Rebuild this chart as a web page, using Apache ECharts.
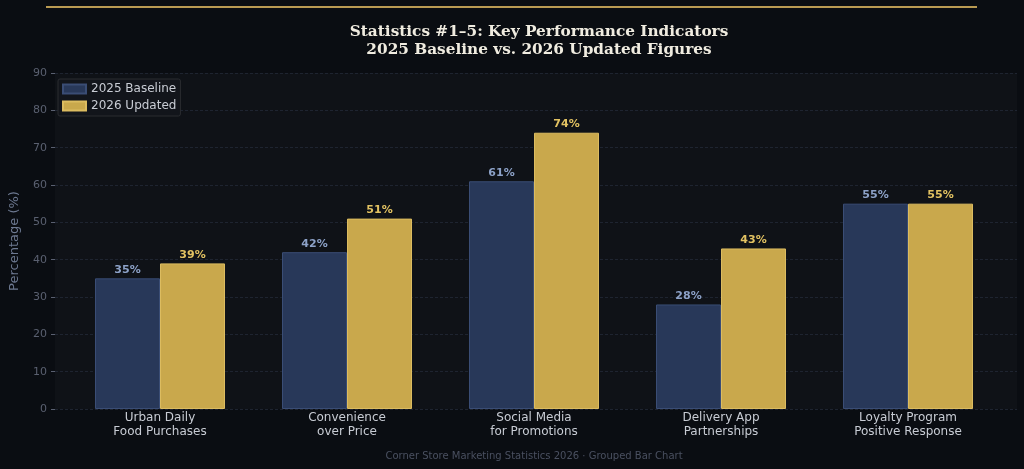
<!DOCTYPE html>
<html>
<head>
<meta charset="utf-8">
<script src="https://cdn.jsdelivr.net/npm/echarts@6/dist/echarts.min.js"></script>
<style>
  html, body { margin: 0; padding: 0; background: #0a0d12; }
  #main { width: 1024px; height: 469px; }
</style>
</head>
<body>
<div id="main"></div>
<script>
var categories = ['Urban Daily\nFood Purchases', 'Convenience\nover Price', 'Social Media\nfor Promotions', 'Delivery App\nPartnerships', 'Loyalty Program\nPositive Response'];
var baseline2025 = [35, 42, 61, 28, 55];
var updated2026 = [39, 51, 74, 43, 55];
var yTicks = [0, 10, 20, 30, 40, 50, 60, 70, 80, 90];

var myChart = echarts.init(document.getElementById('main'));

var option = {
    backgroundColor: '#0a0d12',
    animation: false,
    title: {
        text: 'Statistics #1\u20135: Key Performance Indicators\n2025 Baseline vs. 2026 Updated Figures',
        left: 534,
        top: 18,
        textAlign: 'center',
        textStyle: {
            fontFamily: 'DejaVu Serif',
            fontWeight: 'bold',
            fontSize: 15.3,
            color: '#f0ece0',
            lineHeight: 18
        }
    },
    graphic: [
        // gold rule across the top
        { type: 'rect', shape: { x: 46, y: 6, width: 931, height: 2 }, style: { fill: '#b99a52' } },
        {
            type: 'text', x: 534, y: 451,
            style: { text: 'Corner Store Marketing Statistics 2026 \u00b7 Grouped Bar Chart', align: 'center', fill: '#4a5060', fontSize: 10, fontFamily: 'DejaVu Sans' }
        }
    ],
    legend: {
        data: ['2025 Baseline', '2026 Updated'],
        orient: 'vertical',
        left: 58,
        top: 79,
        padding: [4, 4, 4, 4],
        itemGap: 5,
        itemWidth: 23,
        itemHeight: 9,
        icon: 'rect',
        backgroundColor: '#12151b',
        borderColor: '#2a2c30',
        borderWidth: 1,
        borderRadius: 2,
        textStyle: { color: '#c8ccd4', fontSize: 12, fontFamily: 'DejaVu Sans' }
    },
    grid: [
        // background grid spans the whole plot area
        { left: 52, right: 7, top: 73, bottom: 60, show: true, backgroundColor: '#0f1217', borderWidth: 0 },
        // bars grid matches the category spacing
        { left: 66.5, right: 22.5, top: 73, bottom: 60 }
    ],
    xAxis: [
        { type: 'value', gridIndex: 0, show: false, min: 0, max: 1 },
        {
            type: 'category',
            gridIndex: 1,
            data: categories,
            axisLine: { show: false },
            axisTick: { show: false },
            axisLabel: { color: '#c8ccd4', fontSize: 12, fontFamily: 'DejaVu Sans', lineHeight: 14, margin: 2 }
        }
    ],
    yAxis: [
        {
            type: 'value',
            gridIndex: 0,
            min: 0,
            max: 90,
            interval: 10,
            name: 'Percentage (%)',
            nameLocation: 'middle',
            nameGap: 34,
            nameTextStyle: { color: '#6c7890', fontSize: 13, fontFamily: 'DejaVu Sans' },
            axisLine: { show: false },
            axisTick: { show: true, length: 4, lineStyle: { color: '#5a6070' } },
            axisLabel: { color: '#5a6070', fontSize: 11, fontFamily: 'DejaVu Sans', margin: 8 },
            splitLine: { show: true, lineStyle: { color: '#1e2430', type: [3, 2], width: 1 } }
        },
        { type: 'value', gridIndex: 1, min: 0, max: 90, show: false }
    ],
    series: [
        {
            name: '2025 Baseline',
            type: 'bar',
            xAxisIndex: 1,
            yAxisIndex: 1,
            barWidth: 65,
            barGap: '0%',
            itemStyle: { color: '#283859', borderColor: '#3a4d75', borderWidth: 1 },
            label: {
                show: true, position: 'top', distance: 3,
                formatter: '{c}%',
                color: '#8da2c8', fontSize: 11, fontWeight: 'bold', fontFamily: 'DejaVu Sans'
            },
            data: baseline2025
        },
        {
            name: '2026 Updated',
            type: 'bar',
            xAxisIndex: 1,
            yAxisIndex: 1,
            barWidth: 65,
            barGap: '0%',
            itemStyle: { color: '#c9a84c', borderColor: '#dcbc60', borderWidth: 1 },
            label: {
                show: true, position: 'top', distance: 3,
                formatter: '{c}%',
                color: '#e2c262', fontSize: 11, fontWeight: 'bold', fontFamily: 'DejaVu Sans'
            },
            data: updated2026
        }
    ]
};

myChart.setOption(option);
</script>
</body>
</html>
